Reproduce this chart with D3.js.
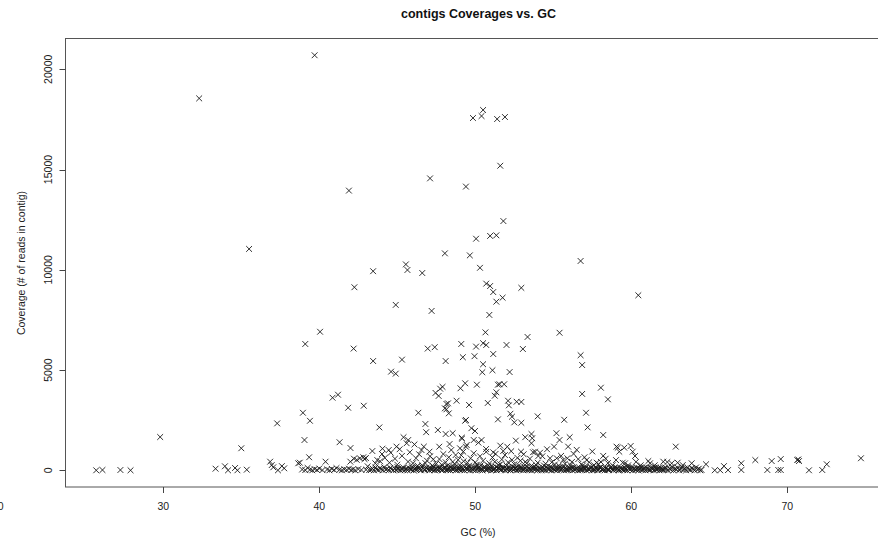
<!DOCTYPE html>
<html>
<head>
<meta charset="utf-8">
<script src="https://cdn.jsdelivr.net/npm/d3@7"></script>
<style>
  body{margin:0;background:#fff;}
  svg{display:block;font-family:"Liberation Sans",Arial,Helvetica,sans-serif;}
  .pt{stroke:#1a1a1a;stroke-width:0.9;fill:none;}
</style>
</head>
<body>
<svg id="chart" width="878" height="544"></svg>
<script>
var xTicks=[30,40,50,60,70]
var yTicks=[0,5000,10000,15000,20000]

// [GC %, coverage]
var highCov=[[39.7,20700],[32.3,18550],[50.5,17970],[49.85,17570],[50.4,17670],[51.4,17520],[51.9,17620],
  [51.6,15190],[41.9,13950],[47.1,14560],[49.4,14150],[35.5,11040],[51.8,12430],[50.05,11550],[50.95,11690],
  [51.35,11720],[48.05,10820],[49.65,10720],[45.55,10270],[45.65,9990],[46.6,9840],[50.3,10100],[56.75,10440],
  [50.7,9310],[50.95,9190],[52.95,9100],[43.45,9930],[42.25,9130],[51.15,8890],[51.75,8610],[51.35,8410],
  [60.45,8730],[44.9,8250],[47.2,7950],[50.9,7750],[40.05,6910],[39.1,6300],[42.2,6070],[46.95,6070],
  [47.4,6140],[49.1,6300],[50.05,6170],[50.5,6340],[50.7,6250],[52.0,6250],[53.05,6050],[50.65,6880],
  [53.35,6650],[55.4,6860],[43.45,5450],[45.3,5520],[48.1,5450],[49.2,5640],[49.95,5690],[51.15,5800],
  [56.75,5740],[56.85,5250],[50.5,5290]]

var midCov=[[52.2,4900],[44.6,4920],[44.9,4820],[50.45,4890],[51.1,4990],[40.85,3620],[41.2,3770],[41.85,3120],
  [42.85,3220],[47.45,3860],[47.65,3710],[47.75,4070],[47.9,4160],[49.05,4090],[49.35,4340],[50.1,4270],
  [51.45,4270],[51.55,4290],[51.85,4290],[58.05,4120],[48.25,3340],[48.8,3470],[49.6,3260],[48.05,3090],
  [51.35,3890],[51.25,3720],[56.85,3810],[58.5,3540],[50.8,3360],[52.1,3470],[52.65,3420],[52.95,3410],
  [52.15,3240],[52.25,2820],[52.35,2670],[52.5,2390],[52.95,2370],[54.0,2690],[55.7,2520],[57.1,2870],
  [57.2,2140],[51.45,2540],[49.4,2510],[49.75,2100],[38.95,2870],[39.4,2470],[39.05,1510],[43.85,2140],
  [41.3,1400],[42.0,1110],[46.35,2870],[46.8,2310],[46.85,1900],[47.6,2010],[48.1,1810],[48.55,1850],
  [49.15,1580],[49.35,2470],[48.15,3310],[48.15,3040],[48.3,2840],[45.4,1650],[45.7,1510],[45.6,1350],
  [44.95,1180],[45.15,1050],[44.45,1010],[44.05,1080],[46.55,1010],[46.7,1180],[48.35,1310],[58.2,1760],
  [55.2,1850],[55.4,1510],[55.05,1180],[56.05,1650],[55.95,1180],[53.6,1810],[53.65,1600],[53.6,1350],
  [53.2,1650],[49.9,1510],[50.4,1510],[59.05,1180],[62.85,1180],[29.8,1660],[35.0,1100],[37.3,2340],
  [49.98,1960],[49.13,1626],[49.4,1177],[50.69,1062],[51.15,898],[51.79,963],[52.05,1177],[52.93,928],
  [53.83,928],[54.15,878],[54.04,713],[59.13,1127],[59.23,928],[59.55,1127],[59.96,1212],[60.09,928],
  [60.24,713],[47.69,1177],[48.46,1013],[49.02,1097],[49.23,928],[49.45,1262],[47.06,928],[44.58,878],
  [50.2,1380],[51.6,1230],[52.6,1480],[54.6,1050],[56.5,1020],[57.5,940],[46.1,1290],[43.4,960]]

var lowCov=[[25.7,0],[26.1,15],[27.25,15],[27.9,0],[33.35,80],[33.95,200],[34.15,0],[34.6,115],[34.75,0],
  [35.35,30],[36.85,430],[36.95,260],[37.05,150],[37.35,0],[37.6,210],[37.75,100],[38.65,350],
  [38.75,380],[38.9,40],[39.1,10],[39.25,120],[39.35,650],[39.4,30],[39.55,0],[39.7,60],[39.85,20],[40.0,90],
  [40.2,10],[40.4,430],[40.5,40],[40.65,0],[40.8,70],[40.95,20],[41.1,110],[41.3,30],[41.45,0],[41.6,50],
  [41.75,20],[41.9,80],[41.99,430],[42.05,10],[42.15,40],[42.22,580],[42.3,0],[42.4,520],[42.5,60],[42.6,600],
  [42.7,20],[42.82,650],[42.9,560],[42.99,610],[43.0,30],[43.1,200],[43.2,10],
  [43.32,20],[43.41,90],[43.5,0],[43.6,140],[43.68,40],[43.79,10],[43.88,110],[43.97,60],[44.08,0],[44.16,150],
  [44.27,30],[44.35,80],[44.46,10],[44.55,120],[44.63,50],[44.74,0],[44.83,100],[44.92,20],[45.01,160],[45.12,40],
  [45.2,0],[45.29,90],[45.4,130],[45.48,10],[45.57,60],[45.66,0],[45.77,110],[45.85,30],[45.94,150],[46.05,0],
  [46.13,70],[46.22,20],[46.33,120],[46.41,40],[46.5,0],[46.6,160],[46.69,80],[46.78,10],[46.87,130],[46.96,50],
  [47.05,0],[47.14,100],[47.23,30],[47.32,150],[47.41,0],[47.5,70],[47.59,20],[47.68,120],[47.77,40],[47.86,0],
  [47.95,90],[48.04,160],[48.13,10],[48.22,60],[48.31,130],[48.4,0],[48.49,80],[48.58,30],[48.67,150],[48.76,0],
  [48.85,110],[48.94,50],[49.03,10],[49.12,140],[49.21,70],[49.3,0],[49.39,100],[49.48,30],[49.57,160],[49.66,0],
  [49.75,80],[49.84,40],[49.93,120],[50.02,0],[50.11,60],[50.2,150],[50.29,20],[50.38,90],[50.47,0],[50.56,130],
  [50.65,40],[50.74,10],[50.83,110],[50.92,60],[51.01,0],[51.1,150],[51.19,30],[51.28,80],[51.37,0],[51.46,120],
  [51.55,50],[51.64,10],[51.73,140],[51.82,70],[51.91,0],[52.0,100],[52.09,30],[52.18,160],[52.27,0],[52.36,80],
  [52.45,40],[52.54,120],[52.63,0],[52.72,60],[52.81,150],[52.9,20],[52.99,90],[53.08,0],[53.17,130],[53.26,40],
  [53.35,10],[53.44,110],[53.53,60],[53.62,0],[53.71,150],[53.8,30],[53.89,80],[53.98,0],[54.07,120],[54.16,50],
  [54.25,10],[54.34,140],[54.43,70],[54.52,0],[54.61,100],[54.7,30],[54.79,160],[54.88,0],[54.97,80],[55.06,40],
  [55.15,120],[55.24,0],[55.33,60],[55.42,150],[55.51,20],[55.6,90],[55.69,0],[55.78,130],[55.87,40],[55.96,10],
  [56.05,110],[56.14,60],[56.23,0],[56.32,150],[56.41,30],[56.5,80],[56.59,0],[56.68,120],[56.77,50],[56.86,10],
  [56.95,140],[57.04,70],[57.13,0],[57.22,100],[57.31,30],[57.4,160],[57.49,0],[57.58,80],[57.67,40],[57.76,120],
  [57.85,0],[57.94,60],[58.03,150],[58.12,20],[58.21,90],[58.3,0],[58.39,130],[58.48,40],[58.57,10],[58.66,110],
  [58.75,60],[58.84,0],[58.93,150],[59.02,30],[59.11,80],[59.2,0],[59.29,120],[59.38,50],[59.47,10],[59.56,140],
  [59.65,70],[59.74,0],[59.83,100],[59.92,30],[60.01,160],[60.1,0],[60.19,80],[60.28,40],[60.37,120],[60.46,0],
  [60.55,60],[60.64,150],[60.73,20],[60.82,90],[60.91,0],[61.0,130],[61.09,40],[61.18,10],[61.27,110],[61.36,60],
  [61.45,0],[61.54,150],[61.63,30],[61.72,80],[61.81,0],[61.9,120],[61.99,50],[62.08,10],[62.17,140],[62.26,70],
  [62.35,0],[62.44,100],[62.53,30],[62.62,160],[62.71,0],[62.8,80],[62.89,40],[62.98,120],[63.07,0],[63.16,60],
  [63.25,150],[63.34,20],[63.43,90],[63.52,0],[63.61,130],[63.7,40],[63.79,10],[63.88,110],[63.97,60],[64.06,0],
  [64.15,140],[64.24,30],[64.33,80],[64.42,0],[64.5,20],
  // second layer in the band, 45-62
  [45.05,70],[45.34,20],[45.62,100],[45.9,50],[46.18,130],[46.46,80],[46.74,30],[47.02,110],[47.19,60],[47.37,20],
  [47.55,140],[47.73,90],[47.91,30],[48.08,110],[48.26,20],[48.44,170],[48.62,90],[48.8,40],[48.98,130],[49.16,20],
  [49.34,180],[49.52,70],[49.7,120],[49.88,10],[50.06,170],[50.24,90],[50.42,40],[50.6,180],[50.78,70],[50.96,140],
  [51.14,20],[51.32,170],[51.5,90],[51.68,40],[51.86,130],[52.04,60],[52.22,20],[52.4,170],[52.58,90],[52.76,30],
  [52.94,140],[53.12,60],[53.3,180],[53.48,20],[53.66,100],[53.84,150],[54.02,40],[54.2,90],[54.38,20],[54.56,170],
  [54.74,60],[54.92,130],[55.1,20],[55.28,100],[55.46,60],[55.64,170],[55.82,20],[56.0,90],[56.18,140],[56.36,30],
  [56.54,120],[56.72,20],[56.9,80],[57.08,160],[57.26,40],[57.44,110],[57.62,20],[57.8,70],[57.98,140],[58.16,40],
  [58.34,100],[58.52,20],[58.7,160],[58.88,60],[59.06,120],[59.24,30],[59.42,90],[59.6,20],[59.78,150],[59.96,60],
  [60.14,110],[60.32,20],[60.5,90],[60.68,40],[60.86,140],[61.04,70],[61.22,20],[61.4,100],[61.58,50],[61.76,130],
  [61.94,20],[62.12,80],
  // scattered just above the band
  [43.59,350],[43.72,510],[43.9,450],[44.02,810],[44.2,620],[44.5,380],[44.85,580],[45.0,280],[45.3,720],
  [45.69,430],[45.8,900],[46.0,350],[46.2,600],[46.4,800],[46.6,250],[46.9,480],[47.1,700],[47.31,550],
  [47.5,330],[47.7,560],[47.95,810],[48.1,400],[48.3,650],[48.74,760],[48.7,300],[48.9,520],[49.1,750],
  [49.5,380],[49.7,600],[49.9,850],[50.1,280],[50.3,700],[50.5,480],[50.7,920],[50.9,350],[51.1,640],
  [51.3,820],[51.5,260],[51.7,540],[51.9,760],[52.1,400],[52.3,950],[52.5,300],[52.7,620],[52.9,480],
  [53.1,800],[53.3,350],[53.5,580],[53.7,900],[53.9,260],[54.3,700],[54.5,330],[54.79,600],[55.1,290],
  [55.22,600],[55.5,720],[55.64,510],[55.9,600],[56.1,260],[56.3,820],[56.6,560],[56.8,300],[57.0,650],
  [57.14,510],[57.3,400],[57.78,380],[57.9,300],[58.2,720],[58.36,580],[58.5,360],[58.8,250],[59.02,510],
  [59.45,380],[59.6,350],[59.8,250],[60.3,420],[60.6,250],[61.09,460],[61.2,350],[61.5,250],[62.05,430],
  [62.31,410],[62.59,350],[62.97,380],[63.3,260],[63.87,350],[64.79,300],
  [46.3,230],[46.8,360],[47.25,240],[47.85,280],[48.2,230],[48.55,420],[49.0,260],[49.25,450],[49.6,230],
  [50.0,400],[50.35,250],[50.85,230],[51.25,420],[51.6,300],[52.0,240],[52.35,520],[52.8,250],[53.2,420],
  [53.6,230],[54.0,380],[54.4,240],[54.9,400],[55.35,240],[55.75,330],[56.2,420],[56.9,240],[57.6,260],[58.05,420],
  // right tail
  [65.35,0],[65.7,0],[65.94,210],[66.2,10],[67.05,350],[67.05,15],[67.95,510],[68.72,15],[69.0,460],
  [69.58,560],[69.42,15],[69.58,15],[70.64,510],[70.75,460],[70.7,540],[71.39,0],[72.24,15],[72.53,300],[74.72,600]]

var svg=d3.select("#chart")

var x=d3.scaleLinear().domain([30,70]).range([163.3,787.3])
var y=d3.scaleLinear().domain([0,20000]).range([470.3,69.3])

var box={left:65.5,top:38.5,right:890,bottom:487}

//caja del grafico
svg.append("rect")
  .attr("x",box.left).attr("y",box.top)
  .attr("width",box.right-box.left).attr("height",box.bottom-box.top)
  .attr("fill","none").attr("stroke","#555").attr("stroke-width",1)

//eje x
var gx=svg.append("g").attr("transform","translate(0,"+box.bottom+")")
gx.selectAll("line").data(xTicks).enter().append("line")
  .attr("x1",function(d){return Math.round(x(d))+0.5}).attr("x2",function(d){return Math.round(x(d))+0.5})
  .attr("y1",0).attr("y2",6).attr("stroke","#444")
gx.selectAll("text").data(xTicks).enter().append("text")
  .attr("x",function(d){return x(d)}).attr("y",23)
  .attr("text-anchor","middle").attr("font-size","10.5px").attr("fill","#222")
  .text(function(d){return d})
// resto del "20" cortado en el borde izquierdo
gx.append("text").attr("x",3.5).attr("y",23).attr("text-anchor","end")
  .attr("font-size","10.5px").attr("fill","#222").text("20")

//eje y
var gy=svg.append("g").attr("transform","translate("+box.left+",0)")
gy.selectAll("line").data(yTicks).enter().append("line")
  .attr("x1",-6).attr("x2",0)
  .attr("y1",function(d){return Math.round(y(d))+0.5}).attr("y2",function(d){return Math.round(y(d))+0.5})
  .attr("stroke","#444")
gy.selectAll("text").data(yTicks).enter().append("text")
  .attr("transform",function(d){return "translate(-14,"+y(d)+")rotate(-90)"})
  .attr("text-anchor","middle").attr("font-size","10.5px").attr("fill","#222")
  .text(function(d){return d})

//titulos
svg.append("text").attr("x",478.5).attr("y",17.5).attr("text-anchor","middle")
  .attr("font-size","12.5px").attr("font-weight","bold").attr("fill","#111")
  .text("contigs Coverages vs. GC")
svg.append("text").attr("x",478).attr("y",536).attr("text-anchor","middle")
  .attr("font-size","10.5px").attr("fill","#222").text("GC (%)")
svg.append("text").attr("transform","translate(25,263)rotate(-90)").attr("text-anchor","middle")
  .attr("font-size","10.5px").attr("fill","#222").text("Coverage (# of reads in contig)")

//puntos (pch 4)
var all=highCov.concat(midCov).concat(lowCov)
var s=2.9
svg.append("g").selectAll("path.pt").data(all).enter().append("path")
  .attr("class","pt")
  .attr("d",function(d){
    var px=x(d[0]),py=y(d[1])
    return "M"+(px-s)+","+(py-s)+"L"+(px+s)+","+(py+s)+"M"+(px-s)+","+(py+s)+"L"+(px+s)+","+(py-s)
  })
</script>
</body>
</html>
